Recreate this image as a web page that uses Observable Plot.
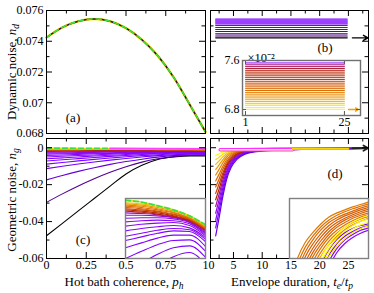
<!DOCTYPE html>
<html><head><meta charset="utf-8">
<script src="https://cdn.jsdelivr.net/npm/d3@7"></script>
<script src="https://cdn.jsdelivr.net/npm/@observablehq/plot@0.6"></script>
<style>
body{margin:0;background:#fff}
#fig{position:relative;width:374px;height:293px;overflow:hidden;font-family:"Liberation Serif","Times New Roman",serif;color:#000}
.lab{position:absolute;font-size:13px;white-space:nowrap;line-height:1;z-index:5}
.lab sub{font-size:9.5px;font-style:italic;vertical-align:-3px;line-height:0}
.rot{transform:translate(-50%,-50%) rotate(-90deg)}
.ctr{transform:translate(-50%,-50%)}
</style></head><body>
<div id="fig">
<div class="lab rot" style="left:11px;top:72px">Dynamic noise, <i>n</i><sub>d</sub></div>
<div class="lab rot" style="left:11px;top:200px">Geometric noise, <i>n</i><sub>g</sub></div>
<div class="lab ctr" style="left:124px;top:281px">Hot bath coherence, <i>p</i><sub>h</sub></div>
<div class="lab ctr" style="left:292px;top:281px">Envelope duration, <i>t</i><sub>e</sub>/<i>t</i><sub>p</sub></div>
<div class="lab ctr" style="left:73px;top:117px">(a)</div>
<div class="lab ctr" style="left:325px;top:47px">(b)</div>
<div class="lab ctr" style="left:83px;top:239px">(c)</div>
<div class="lab ctr" style="left:335px;top:173px">(d)</div>
</div>
<script>
// ---------- tick values ----------
const pTicks = [0, 0.25, 0.5, 0.75, 1];
const pMinor = [0.125, 0.375, 0.625, 0.875];
const teTicks = [5, 10, 15, 20, 25];
const teMinor = [2.5, 7.5, 12.5, 17.5, 22.5, 27.5];
const ndTicks = [0.068, 0.07, 0.072, 0.074, 0.076];
const ndMinor = [0.069, 0.071, 0.073, 0.075];
const ngTicks = [0, -0.02, -0.04, -0.06];
const ngMinor = [-0.01, -0.03, -0.05];
const biYTicks = [6.8, 7.6];
const biXTicks = [1, 25];

// ---------- (a) dynamic noise vs p_h ----------
const pA = [0, 0.1, 0.2, 0.3, 0.4, 0.5, 0.6, 0.7, 0.8, 0.9, 1];
const ndA = [0.07424, 0.07490, 0.07530, 0.07545, 0.07530, 0.07485, 0.07410, 0.07305, 0.07165, 0.06990, 0.06810];

// ---------- (b) dynamic noise vs t_e ----------
const teB = [1.9, 24.8];
const ndB = [0.07545, 0.07538, 0.07532, 0.07525, 0.07519, 0.07512, 0.07502, 0.07489, 0.07476, 0.07463, 0.07448, 0.07434, 0.07422];
const tB = [0.25, 0.25, 0.24, 0.24, 0.23, 0.22, 0.2, 0.18, 0.15, 0.12, 0.09, 0.05, 0];
const arrowTe = [25.7, 28.4];
const arrowNd = 0.07422;
// inset of (b), units of 1e-2
const teBi = [1, 25];
const ndBi = [7.56, 7.53, 7.50, 7.47, 7.44, 7.41, 7.38, 7.35, 7.32, 7.29, 7.26, 7.23, 7.20, 7.17, 7.14, 7.11, 7.08, 7.05, 7.02, 6.99, 6.96, 6.93, 6.90, 6.87, 6.83, 6.80];
const tBi = [0.25, 0.42, 0.44, 0.47, 0.49, 0.52, 0.54, 0.56, 0.59, 0.61, 0.64, 0.66, 0.68, 0.71, 0.73, 0.76, 0.78, 0.81, 0.83, 0.85, 0.88, 0.9, 0.93, 0.95, 0.98, 1];
const arrowBiTe = [26, 28.4];
const arrowBiV = 6.8;

// ---------- (c) geometric noise vs p_h ----------
const pC = [0, 0.1, 0.2, 0.3, 0.4, 0.5, 0.6, 0.7, 0.8, 0.9, 1];
const ngC = [
  [-0.0477, -0.0410, -0.0342, -0.0275, -0.0208, -0.0142, -0.0095, -0.0064, -0.0050, -0.0044, -0.0045],
  [-0.0296, -0.0250, -0.0207, -0.0168, -0.0133, -0.0103, -0.0078, -0.0060, -0.0048, -0.0042, -0.0041],
  [-0.0174, -0.0150, -0.0128, -0.0108, -0.0090, -0.0075, -0.0062, -0.0051, -0.0043, -0.0039, -0.0038],
  [-0.0113, -0.0100, -0.0088, -0.0077, -0.0067, -0.0058, -0.0050, -0.0043, -0.0038, -0.0035, -0.0035],
  [-0.0089, -0.0080, -0.0071, -0.0063, -0.0056, -0.0049, -0.0043, -0.0038, -0.0034, -0.0032, -0.0033],
  [-0.0072, -0.0065, -0.0059, -0.0053, -0.0047, -0.0042, -0.0037, -0.0033, -0.0030, -0.0029, -0.0031],
  [-0.0060, -0.0055, -0.0050, -0.0045, -0.0041, -0.0037, -0.0033, -0.0030, -0.0027, -0.0027, -0.0029],
  [-0.0050, -0.0046, -0.0042, -0.0039, -0.0035, -0.0032, -0.0029, -0.0027, -0.0025, -0.0025, -0.0027],
  [-0.0042, -0.0039, -0.0036, -0.0033, -0.0031, -0.0028, -0.0026, -0.0024, -0.0023, -0.0023, -0.0025],
  [-0.0035, -0.0033, -0.0031, -0.0029, -0.0027, -0.0025, -0.0023, -0.0022, -0.0021, -0.0021, -0.0023],
  [-0.0029, -0.0028, -0.0026, -0.0025, -0.0023, -0.0022, -0.0021, -0.0020, -0.0019, -0.0019, -0.0021],
  [-0.0024, -0.0023, -0.0022, -0.0021, -0.0020, -0.0019, -0.0018, -0.0018, -0.0017, -0.0018, -0.0019],
  [-0.0020, -0.0019, -0.0019, -0.0018, -0.0017, -0.0017, -0.0016, -0.0016, -0.0016, -0.0016, -0.0017],
  [-0.0017, -0.0016, -0.0016, -0.0015, -0.0015, -0.0015, -0.0014, -0.0014, -0.0014, -0.0015, -0.0016],
  [-0.0014, -0.0014, -0.0014, -0.0013, -0.0013, -0.0013, -0.0013, -0.0013, -0.0013, -0.0014, -0.0015],
  [-0.0012, -0.0012, -0.0012, -0.0011, -0.0011, -0.0011, -0.0011, -0.0011, -0.0012, -0.0012, -0.0013],
  [-0.0010, -0.0010, -0.0010, -0.0009, -0.0009, -0.0009, -0.0009, -0.0010, -0.0010, -0.0011, -0.0012],
  [-0.0007, -0.0007, -0.0007, -0.0007, -0.0007, -0.0007, -0.0008, -0.0008, -0.0009, -0.0009, -0.0010]
];
const tC = [0, 0.1, 0.16, 0.21, 0.24, 0.26, 0.27, 0.28, 0.29, 0.3, 0.31, 0.32, 0.34, 0.36, 0.5, 0.65, 0.8, 0.95];
const pDashG = [0, 0.4];
const ngDashG = [-0.0002, -0.0003];
const pDashM = [0.4, 1];
const ngDashM = [-0.0003, -0.0007];
// inset of (c): u across, v measured down from the inset top
const uCi = [0, 0.2, 0.4, 0.6, 0.8, 1];
const vCiDash = [0.03, 0.06, 0.12, 0.19, 0.29, 0.44];
const vCi = [
  [1.60, 1.35, 1.13, 0.97, 0.90, 1.10],
  [1.25, 1.08, 0.93, 0.82, 0.79, 0.98],
  [1.00, 0.88, 0.77, 0.70, 0.69, 0.88],
  [0.82, 0.74, 0.66, 0.61, 0.61, 0.80],
  [0.70, 0.64, 0.58, 0.54, 0.55, 0.72],
  [0.63, 0.58, 0.53, 0.50, 0.52, 0.68],
  [0.54, 0.50, 0.47, 0.45, 0.49, 0.65],
  [0.46, 0.43, 0.41, 0.40, 0.45, 0.62],
  [0.39, 0.37, 0.36, 0.37, 0.42, 0.60],
  [0.33, 0.32, 0.32, 0.34, 0.40, 0.58],
  [0.28, 0.28, 0.29, 0.32, 0.39, 0.56],
  [0.24, 0.25, 0.27, 0.31, 0.38, 0.54],
  [0.21, 0.23, 0.26, 0.30, 0.37, 0.53],
  [0.19, 0.21, 0.24, 0.29, 0.36, 0.52],
  [0.17, 0.19, 0.22, 0.27, 0.35, 0.51],
  [0.15, 0.17, 0.21, 0.26, 0.34, 0.50],
  [0.13, 0.15, 0.19, 0.24, 0.33, 0.49],
  [0.11, 0.13, 0.17, 0.23, 0.32, 0.48],
  [0.09, 0.11, 0.15, 0.21, 0.30, 0.46],
  [0.07, 0.09, 0.13, 0.19, 0.29, 0.45]
];
const tCi = [0.25, 0.26, 0.26, 0.27, 0.27, 0.28, 0.29, 0.3, 0.31, 0.32, 0.34, 0.36, 0.48, 0.55, 0.62, 0.7, 0.75, 0.8, 0.85, 0.9];

// ---------- (d) geometric noise vs t_e ----------
const teD = [1.9, 2.5, 3.1, 3.8, 4.6, 5.6, 7, 9, 12, 28.5];
const ngD = [
  [-0.0042, -0.0033, -0.0024, -0.0015, -0.0009, -0.0006, -0.0003, -0.0002, -0.0001, -0.0000],
  [-0.0065, -0.0051, -0.0037, -0.0023, -0.0014, -0.0009, -0.0005, -0.0003, -0.0002, -0.0001],
  [-0.0090, -0.0071, -0.0051, -0.0032, -0.0020, -0.0012, -0.0007, -0.0004, -0.0003, -0.0001],
  [-0.0118, -0.0093, -0.0067, -0.0042, -0.0026, -0.0016, -0.0009, -0.0005, -0.0003, -0.0001],
  [-0.0148, -0.0117, -0.0084, -0.0053, -0.0033, -0.0020, -0.0011, -0.0007, -0.0004, -0.0001],
  [-0.0180, -0.0143, -0.0103, -0.0065, -0.0040, -0.0024, -0.0013, -0.0008, -0.0005, -0.0002],
  [-0.0213, -0.0169, -0.0121, -0.0077, -0.0047, -0.0028, -0.0016, -0.0009, -0.0006, -0.0002],
  [-0.0247, -0.0195, -0.0141, -0.0089, -0.0055, -0.0033, -0.0018, -0.0011, -0.0007, -0.0002],
  [-0.0282, -0.0223, -0.0160, -0.0101, -0.0063, -0.0037, -0.0021, -0.0012, -0.0008, -0.0002],
  [-0.0318, -0.0251, -0.0181, -0.0114, -0.0070, -0.0042, -0.0023, -0.0014, -0.0009, -0.0003],
  [-0.0355, -0.0281, -0.0202, -0.0128, -0.0079, -0.0047, -0.0026, -0.0016, -0.0010, -0.0003],
  [-0.0393, -0.0311, -0.0224, -0.0141, -0.0087, -0.0052, -0.0029, -0.0017, -0.0012, -0.0003],
  [-0.0434, -0.0343, -0.0247, -0.0156, -0.0096, -0.0057, -0.0032, -0.0019, -0.0013, -0.0004],
  [-0.0478, -0.0378, -0.0272, -0.0172, -0.0106, -0.0063, -0.0035, -0.0021, -0.0014, -0.0004]
];
const tD = [1, 0.95, 0.9, 0.85, 0.8, 0.75, 0.7, 0.62, 0.5, 0.4, 0.33, 0.28, 0.23, 0.17];
const teMag = [2.7, 15.3];
const ngMag = -0.0011;
const teOr = [15.3, 25];
const ngOr = -0.0006;
const arrowNg = -0.0002;
// inset of (d): u across, v up from the inset bottom
const uDi = [0, 0.1, 0.2, 0.3, 0.4, 0.5, 0.6, 0.7, 0.8, 0.9, 1];
const vDi = [
  [-1, -1, -1, -0.5, -0.1, 0.15, 0.32, 0.43, 0.50, 0.55, 0.58],
  [-1, -1, -1, -0.7, -0.25, 0.05, 0.25, 0.37, 0.45, 0.51, 0.55],
  [-1, -1, -1, -0.9, -0.4, -0.05, 0.17, 0.31, 0.40, 0.47, 0.51],
  [-1, -1, -1, -1, -0.55, -0.15, 0.10, 0.25, 0.35, 0.42, 0.47],
  [-0.4, 0, 0.27, 0.44, 0.58, 0.69, 0.76, 0.81, 0.86, 0.90, 0.94],
  [-0.5, -0.1, 0.19, 0.38, 0.53, 0.64, 0.72, 0.78, 0.83, 0.87, 0.91],
  [-0.6, -0.2, 0.11, 0.32, 0.48, 0.60, 0.68, 0.74, 0.79, 0.84, 0.88],
  [-0.7, -0.3, 0.03, 0.25, 0.42, 0.55, 0.64, 0.71, 0.76, 0.81, 0.85],
  [-0.8, -0.4, -0.06, 0.18, 0.36, 0.50, 0.60, 0.67, 0.73, 0.78, 0.82],
  [-0.9, -0.5, -0.15, 0.11, 0.30, 0.45, 0.56, 0.64, 0.70, 0.75, 0.79],
  [-1, -0.6, -0.24, 0.04, 0.24, 0.40, 0.52, 0.60, 0.67, 0.72, 0.76],
  [-1, -0.7, -0.33, -0.04, 0.18, 0.35, 0.47, 0.56, 0.63, 0.69, 0.73],
  [-1, -0.8, -0.42, -0.12, 0.11, 0.29, 0.42, 0.52, 0.60, 0.66, 0.70],
  [-1, -0.9, -0.51, -0.2, 0.04, 0.23, 0.37, 0.48, 0.56, 0.62, 0.67],
  [-1, -1, -0.6, -0.25, 0.02, 0.24, 0.40, 0.52, 0.61, 0.67, 0.72],
  [-1, -1, -0.7, -0.34, -0.06, 0.17, 0.34, 0.46, 0.55, 0.62, 0.66],
  [-1, -1, -0.8, -0.43, -0.14, 0.10, 0.27, 0.40, 0.49, 0.56, 0.60],
  [-1, -1, -0.9, -0.52, -0.22, 0.03, 0.20, 0.33, 0.43, 0.50, 0.54]
];
const tDi = [0.2, 0.23, 0.26, 0.3, 0.78, 0.76, 0.74, 0.72, 0.7, 0.72, 0.74, 0.76, 0.78, 0.8, 1, 0.98, 1, 0.98];

// ---------- helpers ----------
const fig = document.getElementById("fig");
const W = 374, H = 293;
const FONT = "'Liberation Serif','Times New Roman',serif";
function gnu(t) { // gnuplot default pm3d palette (7,5,15)
  t = Math.max(0, Math.min(1, t));
  return d3.rgb(255 * Math.sqrt(t), 255 * t * t * t, 255 * Math.max(0, Math.sin(2 * Math.PI * t))).formatHex();
}
function rows(xs, ys, ts) {
  const out = [];
  ys.forEach((row, k) => row.forEach((v, i) => out.push({x: xs[i], y: v, k, t: ts[k]})));
  return out;
}
function pts(xs, ys) { return xs.map((x, i) => ({x, y: ys[i]})); }
function frameTicks(w, h, {xMaj = [], xMin = [], yMaj = [], yMin = [], L = 6, l = 3.5, stroke = "black"}) {
  const m = [];
  for (const [arr, len] of [[xMaj, L], [xMin, l]]) {
    m.push(Plot.tickX(arr, {x: d => d, insetTop: h - len, stroke}));
    m.push(Plot.tickX(arr, {x: d => d, insetBottom: h - len, stroke}));
  }
  for (const [arr, len] of [[yMaj, L], [yMin, l]]) {
    m.push(Plot.tickY(arr, {y: d => d, insetRight: w - len, stroke}));
    m.push(Plot.tickY(arr, {y: d => d, insetLeft: w - len, stroke}));
  }
  return m;
}
function panel(fr, x, y, marks) {
  const [x0, x1, y0, y1] = fr;
  const svg = Plot.plot({
    width: W, height: H,
    marginLeft: x0, marginRight: W - x1, marginTop: y0, marginBottom: H - y1,
    x: {label: null, ...x}, y: {label: null, ...y},
    color: {type: "linear", domain: [0, 1], interpolate: gnu},
    style: {background: "transparent", fontFamily: FONT, fontSize: "12px", color: "black", overflow: "visible"},
    marks
  });
  svg.style.position = "absolute"; svg.style.left = "0px"; svg.style.top = "0px";
  fig.appendChild(svg);
}
const FA = [46, 205, 10, 133], FB = [210, 368, 10, 133], FC = [46, 205, 138, 258], FD = [210, 368, 138, 258];
const FBi = [242, 360, 60, 115], FCi = [125, 205, 198, 258], FDi = [289, 368, 198, 258];
const LINE = {x: "x", y: "y", z: "k", stroke: "t", curve: "monotone-x"};

// (a)
panel(FA, {domain: [0, 1], axis: null}, {domain: [0.068, 0.076]}, [
  Plot.line(pts(pA, ndA), {x: "x", y: "y", stroke: "#ffe400", strokeWidth: 2.6, curve: "monotone-x"}),
  Plot.line(pts(pA, ndA), {x: "x", y: "y", stroke: "#2a0a3a", strokeWidth: 1.5, curve: "monotone-x"}),
  Plot.line(pts(pA, ndA), {x: "x", y: "y", stroke: "#3ee03e", strokeWidth: 1.6, strokeDasharray: "5,4", curve: "monotone-x"}),
  ...frameTicks(159, 123, {xMaj: pTicks, xMin: pMinor, yMaj: ndTicks, yMin: ndMinor}),
  Plot.axisY(ndTicks, {tickSize: 0, tickPadding: 3, label: null, tickFormat: d => String(+d.toFixed(3))}),
  Plot.frame({stroke: "black"})
]);

// (b)
panel(FB, {domain: [1, 28.5], axis: null}, {domain: [0.068, 0.076], axis: null}, [
  Plot.line(rows(teB, ndB.map(v => [v, v]), tB), {...LINE, strokeWidth: 1.1, curve: "linear"}),
  Plot.arrow([{x1: arrowTe[0], x2: arrowTe[1], y: arrowNd}], {x1: "x1", x2: "x2", y1: "y", y2: "y", stroke: "black", strokeWidth: 1.4, headLength: 6}),
  ...frameTicks(158, 123, {xMaj: teTicks, xMin: teMinor, yMaj: ndTicks, yMin: ndMinor}),
  Plot.frame({stroke: "black"})
]);

// (c)
panel(FC, {domain: [0, 1]}, {domain: [-0.06, 0.005]}, [
  Plot.line(rows(pC, ngC, tC), {...LINE, strokeWidth: 1.1, clip: true}),
  Plot.line(pts([0, 1], [-0.0003, -0.0006]), {x: "x", y: "y", stroke: "#ffe400", strokeWidth: 1.4}),
  Plot.line(pts(pDashG, ngDashG), {x: "x", y: "y", stroke: "#3ee03e", strokeWidth: 1.6, strokeDasharray: "5,3"}),
  Plot.line(pts(pDashM, ngDashM), {x: "x", y: "y", stroke: "#ff40ff", strokeWidth: 1.8}),
  ...frameTicks(159, 120, {xMaj: pTicks, xMin: pMinor, yMaj: ngTicks, yMin: ngMinor}),
  Plot.axisY(ngTicks, {tickSize: 0, tickPadding: 3, label: null, tickFormat: d => d === 0 ? "0" : "-" + String(Math.abs(d))}),
  Plot.axisX(pTicks, {tickSize: 0, tickPadding: 2, label: null, tickFormat: d => String(d)}),
  Plot.frame({stroke: "black"})
]);

// (d)
panel(FD, {domain: [1, 28.5]}, {domain: [-0.06, 0.005], axis: null}, [
  Plot.line(rows(teD, ngD, tD), {...LINE, strokeWidth: 1.2, clip: true}),
  Plot.line(pts(teMag, [ngMag, ngMag]), {x: "x", y: "y", stroke: "#ff30ff", strokeWidth: 3.6}),
  Plot.line(pts(teMag, [ngMag, ngMag]), {x: "x", y: "y", stroke: "#fff6a0", strokeWidth: 1.4}),
  Plot.line(pts(teOr, [ngOr, ngOr]), {x: "x", y: "y", stroke: "#f0a000", strokeWidth: 2.2}),
  Plot.line(pts(teOr, [ngOr, ngOr]), {x: "x", y: "y", stroke: "#ffee00", strokeWidth: 1}),
  Plot.arrow([{x1: arrowTe[0], x2: arrowTe[1], y: arrowNg}], {x1: "x1", x2: "x2", y1: "y", y2: "y", stroke: "#222", strokeWidth: 1.8, headLength: 6}),
  ...frameTicks(158, 120, {xMaj: teTicks, xMin: teMinor, yMaj: ngTicks, yMin: ngMinor}),
  Plot.axisX(teTicks, {tickSize: 0, tickPadding: 2, label: null}),
  Plot.axisX([1], {tickSize: 0, tickPadding: 2, label: null, tickFormat: () => "0", dx: 1}),
  Plot.frame({stroke: "black"})
]);

// inset (b)
panel(FBi, {domain: [0.27, 28.9], axis: null}, {domain: [6.702, 7.6], axis: null}, [
  Plot.frame({fill: "white"}),
  Plot.line(rows(teBi, ndBi.map(v => [v, v]), tBi), {...LINE, strokeWidth: 1, curve: "linear"}),
  Plot.arrow([{x1: arrowBiTe[0], x2: arrowBiTe[1], y: arrowBiV}], {x1: "x1", x2: "x2", y1: "y", y2: "y", stroke: "#f0a000", strokeWidth: 1.3, headLength: 5}),
  ...frameTicks(118, 55, {xMaj: biXTicks, yMaj: biYTicks, L: 4, stroke: "#555"}),
  Plot.axisY(biYTicks, {tickSize: 0, tickPadding: 3, label: null, tickFormat: d => d.toFixed(1)}),
  Plot.axisX(biXTicks, {tickSize: 0, tickPadding: 2, label: null}),
  Plot.text(["×10⁻²"], {text: d => d, frameAnchor: "top-left", textAnchor: "start", dx: 5, dy: -7, fontSize: 12.5}),
  Plot.frame({stroke: "#707070", strokeWidth: 1.4})
]);

// inset (c)
panel(FCi, {domain: [0, 1], axis: null}, {domain: [0, 1], reverse: true, axis: null}, [
  Plot.frame({fill: "white"}),
  Plot.line(rows(uCi, vCi, tCi), {...LINE, strokeWidth: 1.1, clip: true}),
  Plot.line(pts(uCi, vCiDash), {x: "x", y: "y", stroke: "#ffe400", strokeWidth: 1.4, curve: "monotone-x", clip: true}),
  Plot.line(pts(uCi, vCiDash), {x: "x", y: "y", stroke: "#3ee03e", strokeWidth: 1.8, strokeDasharray: "5,3", curve: "monotone-x", clip: true}),
  Plot.frame({stroke: "#808080", strokeWidth: 1.4})
]);

// inset (d)
panel(FDi, {domain: [0, 1], axis: null}, {domain: [0, 1], axis: null}, [
  Plot.frame({fill: "white"}),
  Plot.line(rows(uDi, vDi, tDi), {...LINE, strokeWidth: 1.2, clip: true}),
  Plot.frame({stroke: "#808080", strokeWidth: 1.4})
]);
</script>
</body></html>
